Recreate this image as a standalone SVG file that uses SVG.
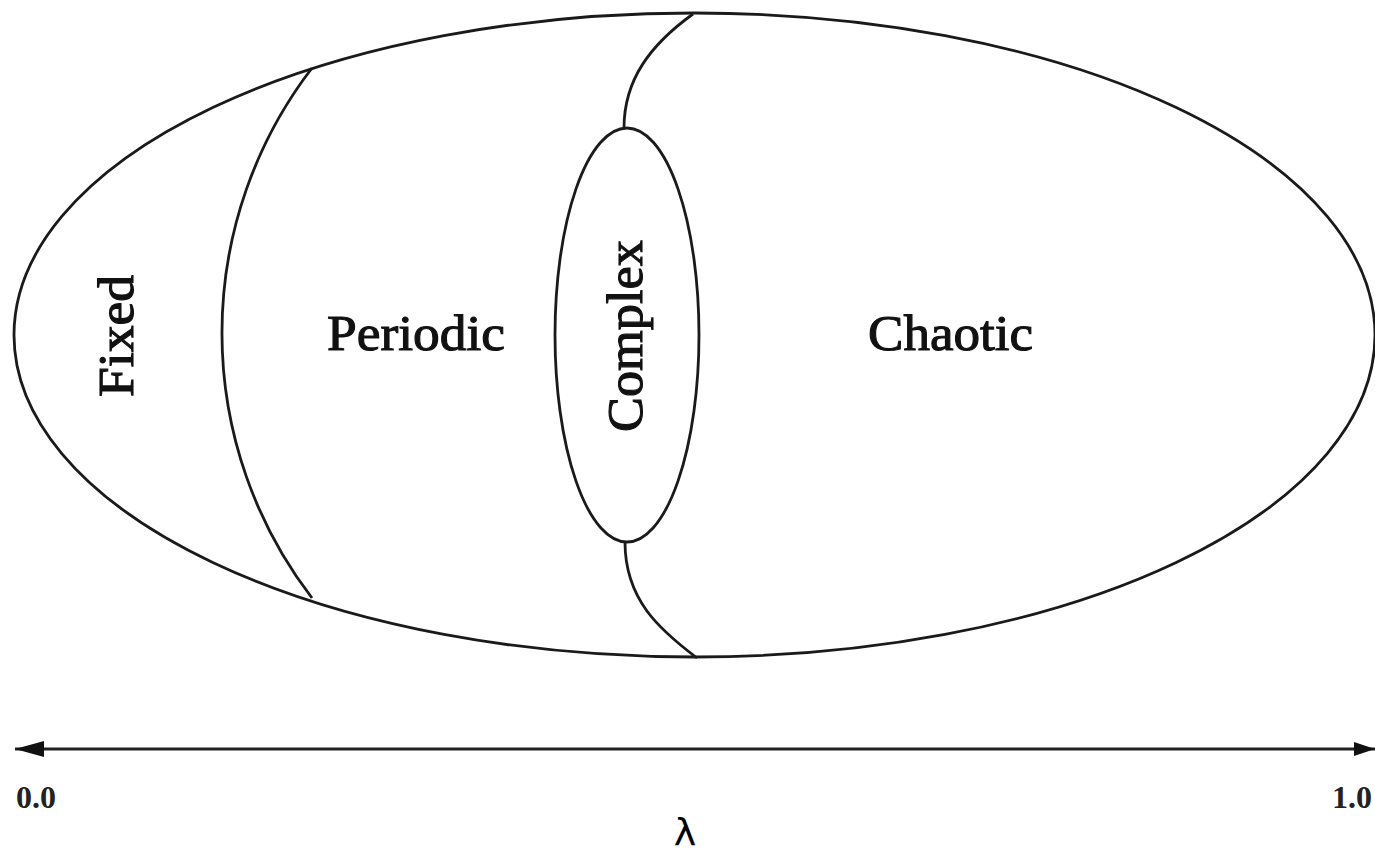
<svg xmlns="http://www.w3.org/2000/svg" width="1375" height="854" viewBox="0 0 1375 854">
<style>
.ln{fill:none;stroke:#1a1a1a;stroke-width:2.8}
.lbl{font-family:"Liberation Serif","Times New Roman",serif;font-size:50px;fill:#111;stroke:#111;stroke-width:1.1}
.num{font-family:"Liberation Serif","Times New Roman",serif;font-size:32px;font-weight:bold;fill:#222}
</style>
<rect width="1375" height="854" fill="#fff"/>
<g id="space">
<ellipse class="ln" cx="694.5" cy="335" rx="680.5" ry="322"/>
</g>
<g id="boundaries">
<path class="ln" d="M312,68 A435,435 0 0 0 312,598"/>
<path class="ln" d="M693,14 C650,45 624,80 624,128"/>
<path class="ln" d="M625,542 C625,600 660,630 697,658"/>
</g>
<g id="complex">
<ellipse class="ln" cx="627" cy="335" rx="72" ry="207"/>
<text class="lbl" transform="translate(642,336) rotate(-90)" text-anchor="middle" textLength="192" lengthAdjust="spacingAndGlyphs">Complex</text>
</g>
<g id="fixed">
<text class="lbl" transform="translate(133,336) rotate(-90)" text-anchor="middle" textLength="122" lengthAdjust="spacingAndGlyphs">Fixed</text>
</g>
<g id="periodic">
<text class="lbl" x="327" y="350" textLength="178" lengthAdjust="spacingAndGlyphs">Periodic</text>
</g>
<g id="chaotic">
<text class="lbl" x="868" y="350" textLength="165" lengthAdjust="spacingAndGlyphs">Chaotic</text>
</g>
<g id="axis">
<line x1="15" y1="749" x2="1375" y2="749" stroke="#222" stroke-width="3"/>
<path d="M15,749 L44,741 L44,757 Z" fill="#111"/>
<path d="M1375,749 L1354,742 L1354,756 Z" fill="#111"/>
<text class="num" x="16" y="808">0.0</text>
<text class="num" x="1372" y="808" text-anchor="end">1.0</text>
<text x="685" y="845" text-anchor="middle" font-family="DejaVu Sans, sans-serif" font-size="38" fill="#000">λ</text>
</g>
</svg>
